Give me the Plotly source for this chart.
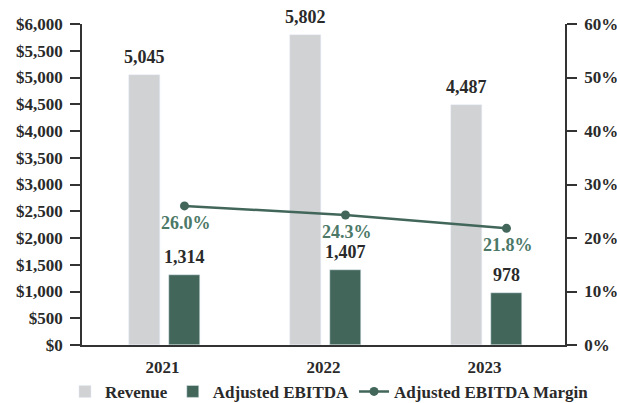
import plotly.graph_objects as go

years = ["2021", "2022", "2023"]
revenue = [5045, 5802, 4487]
ebitda = [1314, 1407, 978]
margin = [26.0, 24.3, 21.8]

y_left_ticks = [0, 500, 1000, 1500, 2000, 2500, 3000, 3500, 4000, 4500, 5000, 5500, 6000]
y_right_ticks = [0, 10, 20, 30, 40, 50, 60]

GRAY = "#D1D2D4"
GREEN = "#42675A"
TEXT_GREEN = "#4C7867"
DARK = "#2a2a2a"
FONT = "Liberation Serif"

xs = list(range(len(years)))
rev_off, ebit_off, bw = -0.21, 0.04, 0.193
line_x = [i + ebit_off + bw / 2 for i in xs]

fig = go.Figure()
fig.add_trace(go.Bar(
    x=xs, y=revenue, name="Revenue", marker_color=GRAY,
    width=bw, offset=rev_off, yaxis="y",
))
fig.add_trace(go.Bar(
    x=xs, y=ebitda, name="Adjusted EBITDA", marker_color=GREEN,
    width=bw, offset=ebit_off, yaxis="y",
))
fig.add_trace(go.Scatter(
    x=line_x, y=[m / 100 for m in margin], name="Adjusted EBITDA Margin",
    mode="lines+markers", line=dict(color=GREEN, width=2.5),
    marker=dict(color=GREEN, size=9), yaxis="y2",
))

annotations = []
for i, v in enumerate(revenue):
    annotations.append(dict(
        x=i + rev_off + bw / 2, y=v, xref="x", yref="y", text=f"{v:,}",
        showarrow=False, yanchor="bottom", yshift=6,
        font=dict(family=FONT, size=18, color=DARK, weight="bold"),
    ))
for i, v in enumerate(ebitda):
    annotations.append(dict(
        x=i + ebit_off + bw / 2, y=v, xref="x", yref="y", text=f"{v:,}",
        showarrow=False, yanchor="bottom", yshift=6,
        font=dict(family=FONT, size=18, color=DARK, weight="bold"),
    ))
for i, m in enumerate(margin):
    annotations.append(dict(
        x=line_x[i], y=m / 100, xref="x", yref="y2", text=f"{m:.1f}%",
        showarrow=False, yanchor="middle", yshift=-17, xshift=2,
        font=dict(family=FONT, size=18, color=TEXT_GREEN, weight="bold"),
    ))

axis_font = dict(family=FONT, size=17, color=DARK, weight="bold")

fig.update_layout(
    width=617, height=403,
    margin=dict(l=82, r=52, t=24, b=58, autoexpand=False),
    plot_bgcolor="white", paper_bgcolor="white",
    barmode="overlay", bargap=0,
    showlegend=True,
    legend=dict(
        orientation="h", x=1.06, xanchor="right", y=-0.146, yanchor="middle",
        font=dict(family=FONT, size=17, color=DARK, weight="bold"),
        itemwidth=30, tracegroupgap=0,
    ),
    xaxis=dict(
        range=[-0.5, 2.5], tickvals=xs, ticktext=years,
        showline=True, linecolor="#333", linewidth=1.5,
        ticks="", showgrid=False, zeroline=False,
        tickfont=axis_font, ticklabelstandoff=6,
    ),
    yaxis=dict(
        range=[0, 6000], tickvals=y_left_ticks,
        ticktext=[f"${v:,}" for v in y_left_ticks],
        showline=True, linecolor="#333", linewidth=1.5,
        ticks="outside", ticklen=10, tickcolor="#333", tickwidth=1.5,
        showgrid=False, zeroline=False, tickfont=axis_font, ticklabelstandoff=4,
    ),
    yaxis2=dict(
        range=[0, 0.6], overlaying="y", side="right",
        tickvals=[v / 100 for v in y_right_ticks],
        ticktext=[f"{v}%" for v in y_right_ticks],
        showline=True, linecolor="#333", linewidth=1.5,
        ticks="outside", ticklen=10, tickcolor="#333", tickwidth=1.5,
        showgrid=False, zeroline=False, tickfont=axis_font, ticklabelstandoff=4,
    ),
    annotations=annotations,
)

fig.write_html(
    "out.html",
    config={"displayModeBar": False},
    post_script="document.body.style.margin='0';document.body.style.overflow='hidden';",
)
